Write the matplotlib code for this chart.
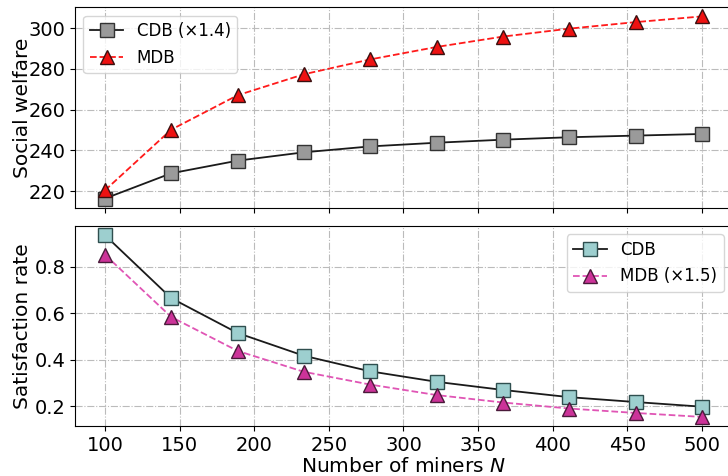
import matplotlib
matplotlib.use("Agg")
import matplotlib.pyplot as plt

# number of miners
n_miners = [100, 144.4, 188.9, 233.3, 277.8, 322.2, 366.7, 411.1, 455.6, 500]

# social welfare
sw_cdb = [216.3, 228.7, 234.9, 239.0, 241.9, 243.7, 245.2, 246.4, 247.2, 248.0]
sw_mdb = [220.3, 250.1, 267.0, 277.3, 284.6, 290.7, 295.8, 299.7, 302.9, 305.7]

# satisfaction rate
sr_cdb = [0.937, 0.666, 0.516, 0.418, 0.351, 0.306, 0.271, 0.240, 0.219, 0.199]
sr_mdb = [0.853, 0.585, 0.439, 0.349, 0.294, 0.249, 0.217, 0.191, 0.172, 0.155]

FS = 14.5
fig = plt.figure(figsize=(7.28, 4.76), dpi=100)
ax1 = fig.add_axes([0.103, 0.5637, 0.9025, 0.421])
ax2 = fig.add_axes([0.103, 0.105, 0.9025, 0.4202], sharex=ax1)

ax1.plot(n_miners, sw_cdb, "-", color="#1a1a1a", lw=1.3, marker="s", ms=10,
         mfc="#9a9a9a", mec="#333333", mew=1.0, label="CDB (×1.4)")
ax1.plot(n_miners, sw_mdb, "--", color="#ff1a1a", lw=1.3, marker="^", ms=10,
         mfc="#ee1111", mec="#3a1010", mew=1.0, label="MDB")
ax1.set_ylabel("Social welfare", fontsize=FS)
ax1.set_yticks([220, 240, 260, 280, 300])
ax1.legend(loc="upper left", fontsize=12)
ax1.tick_params(labelbottom=False, labelsize=FS - 0.5)

ax2.plot(n_miners, sr_cdb, "-", color="#1a1a1a", lw=1.3, marker="s", ms=10,
         mfc="#9dcfcf", mec="#2f4f4f", mew=1.0, label="CDB")
ax2.plot(n_miners, sr_mdb, "--", color="#e055b5", lw=1.3, marker="^", ms=10,
         mfc="#cc3399", mec="#4a1a3a", mew=1.0, label="MDB (×1.5)")
ax2.set_ylabel("Satisfaction rate", fontsize=FS)
ax2.set_xlabel("Number of miners $N$", fontsize=FS, labelpad=1.5)
ax2.set_yticks([0.2, 0.4, 0.6, 0.8])
ax2.set_xticks([100, 150, 200, 250, 300, 350, 400, 450, 500])
ax2.legend(loc="upper right", fontsize=12)
ax2.tick_params(labelsize=FS - 0.5)

for ax in (ax1, ax2):
    ax.grid(True, color="#bbbbbb", ls="-.", lw=0.8)
    ax.set_axisbelow(True)
    ax.yaxis.set_label_coords(-0.066, 0.5)

ax1.set_xlim(80, 520)

fig.savefig("out.png", dpi=100)
